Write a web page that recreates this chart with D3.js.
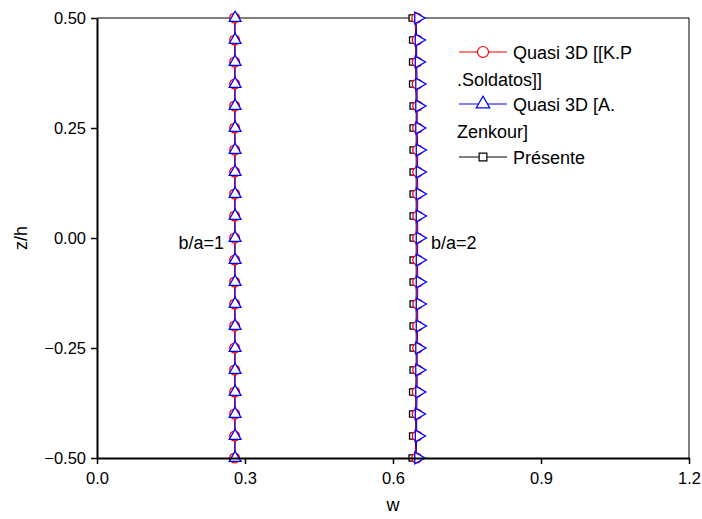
<!DOCTYPE html>
<html lang="en">
<head>
    <meta charset="UTF-8">
    <title>w vs z/h</title>
    <script src="https://d3js.org/d3.v7.min.js"></script>
    <style>
        body { margin: 0; background: #fff; }
        text { font-family: Arial, "Liberation Sans", sans-serif; fill: #000; }
    </style>
</head>
<body>
<script>
// z/h positions of the markers
const zValues = [-0.5, -0.45, -0.4, -0.35, -0.3, -0.25, -0.2, -0.15, -0.1, -0.05, 0,
                 0.05, 0.1, 0.15, 0.2, 0.25, 0.3, 0.35, 0.4, 0.45, 0.5];

// w for b/a = 1
const soldatos1 = [0.279, 0.279, 0.279, 0.279, 0.279, 0.279, 0.279, 0.279, 0.279, 0.279, 0.279,
                   0.279, 0.279, 0.279, 0.279, 0.279, 0.279, 0.279, 0.279, 0.279, 0.279];
const zenkour1  = [0.280, 0.280, 0.280, 0.280, 0.280, 0.280, 0.280, 0.280, 0.280, 0.280, 0.280,
                   0.280, 0.280, 0.280, 0.280, 0.280, 0.280, 0.280, 0.280, 0.280, 0.280];
const present1  = [0.279, 0.279, 0.279, 0.279, 0.279, 0.279, 0.279, 0.279, 0.279, 0.279, 0.279,
                   0.279, 0.279, 0.279, 0.279, 0.279, 0.279, 0.279, 0.279, 0.279, 0.279];

// w for b/a = 2
const soldatos2 = [0.646, 0.647, 0.647, 0.647, 0.648, 0.648, 0.648, 0.648, 0.648, 0.648, 0.648,
                   0.648, 0.648, 0.648, 0.648, 0.648, 0.648, 0.647, 0.647, 0.647, 0.646];
const zenkour2  = [0.647, 0.648, 0.648, 0.649, 0.649, 0.649, 0.650, 0.650, 0.650, 0.650, 0.650,
                   0.650, 0.650, 0.650, 0.650, 0.649, 0.649, 0.649, 0.648, 0.648, 0.647];
const present2  = [0.645, 0.646, 0.646, 0.646, 0.647, 0.647, 0.647, 0.647, 0.647, 0.647, 0.647,
                   0.647, 0.647, 0.647, 0.647, 0.647, 0.647, 0.646, 0.646, 0.646, 0.645];

const xTicks = [0.0, 0.3, 0.6, 0.9, 1.2];
const yTicks = [-0.5, -0.25, 0, 0.25, 0.5];

const legendLabels = [
    ["Quasi 3D [[K.P", ".Soldatos]]"],
    ["Quasi 3D [A.", "Zenkour]"],
    ["Présente"]
];

const width = 702, height = 519;
const margin = {top: 18, right: 13, bottom: 61, left: 97};

const svg = d3.select("body").append("svg")
    .attr("width", width)
    .attr("height", height);

const x = d3.scaleLinear().domain([0, 1.2]).range([margin.left, width - margin.right]);
const y = d3.scaleLinear().domain([-0.5, 0.5]).range([height - margin.bottom, margin.top]);

// frame (top and right)
svg.append("path")
    .attr("d", `M${x(0)},${y(0.5)}H${x(1.2)}V${y(-0.5)}`)
    .attr("fill", "none")
    .attr("stroke", "#000")
    .attr("stroke-width", 1);

// series definitions
const series = [
    {name: "soldatos", color: "#ff0000", symbol: d3.symbolCircle, size: 75},
    {name: "zenkour", color: "#0000ff", symbol: d3.symbolTriangle, size: 60},
    {name: "present", color: "#000000", symbol: d3.symbolSquare, size: 40}
];

const curves = [
    {s: 2, w: present1, rot: 0}, {s: 2, w: present2, rot: 0, dx: -3},
    {s: 0, w: soldatos1, rot: 0}, {s: 0, w: soldatos2, rot: 0, dx: 1},
    {s: 1, w: zenkour1, rot: 0}, {s: 1, w: zenkour2, rot: 90, dx: 2}
];

const line = d3.line()
    .x(d => x(d.w))
    .y(d => y(d.z));

curves.forEach(c => {
    const ser = series[c.s];
    const pts = zValues.map((z, i) => ({z: z, w: c.w[i]}));
    svg.append("path")
        .datum(pts)
        .attr("d", line)
        .attr("fill", "none")
        .attr("stroke", ser.color)
        .attr("stroke-width", 1);
});

curves.forEach(c => {
    const ser = series[c.s];
    const pts = zValues.map((z, i) => ({z: z, w: c.w[i]}));
    svg.append("g")
        .selectAll("path")
        .data(pts)
        .enter().append("path")
        .attr("d", d3.symbol().type(ser.symbol).size(ser.size))
        .attr("transform", d => `translate(${x(d.w) + (c.dx || 0)},${y(d.z)}) rotate(${c.rot})`)
        .attr("fill", "#fff")
        .attr("stroke", ser.color)
        .attr("stroke-width", 1.3);
});

// axes
const xAxis = svg.append("g")
    .attr("transform", `translate(0,${y(-0.5)})`)
    .call(d3.axisBottom(x).tickValues(xTicks).tickFormat(d3.format(".1f")).tickSize(6).tickSizeOuter(0));
const yAxis = svg.append("g")
    .attr("transform", `translate(${x(0)},0)`)
    .call(d3.axisLeft(y).tickValues(yTicks).tickFormat(d3.format(".2f")).tickSize(6).tickSizeOuter(0));

[xAxis, yAxis].forEach(a => {
    a.select(".domain").attr("stroke-width", 2);
    a.selectAll(".tick line").attr("stroke-width", 1.5);
    a.selectAll(".tick text")
        .style("font-family", "Arial, 'Liberation Sans', sans-serif")
        .style("font-size", "16.5px");
});
xAxis.selectAll(".tick text").attr("dy", "1.0em");
yAxis.selectAll(".tick text").attr("x", -11);

// axis titles
svg.append("text")
    .attr("x", (x(0) + x(1.2)) / 2)
    .attr("y", 511)
    .attr("text-anchor", "middle")
    .style("font-size", "18px")
    .text("w");

svg.append("text")
    .attr("transform", `translate(27,${y(0)}) rotate(-90)`)
    .attr("text-anchor", "middle")
    .style("font-size", "18px")
    .text("z/h");

// annotations
svg.append("text").attr("x", 224).attr("y", 249).attr("text-anchor", "end")
    .style("font-size", "18px").text("b/a=1");
svg.append("text").attr("x", 431).attr("y", 249).style("font-size", "18px").text("b/a=2");

// legend
const legendRows = [52, 104, 157];
legendLabels.forEach((lines, i) => {
    const ser = series[i];
    const ly = legendRows[i];
    const g = svg.append("g");
    g.append("line")
        .attr("x1", 459).attr("x2", 507)
        .attr("y1", ly).attr("y2", ly)
        .attr("stroke", ser.color)
        .attr("stroke-width", 1);
    g.append("path")
        .attr("d", d3.symbol().type(ser.symbol).size(ser.size + 20))
        .attr("transform", `translate(483,${ly})`)
        .attr("fill", "#fff")
        .attr("stroke", ser.color)
        .attr("stroke-width", 1.2);
    lines.forEach((t, j) => {
        g.append("text")
            .attr("x", j === 0 ? 513 : 457)
            .attr("y", ly + 6.5 + j * 27)
            .style("font-size", "18px")
            .text(t);
    });
});
</script>
</body>
</html>
